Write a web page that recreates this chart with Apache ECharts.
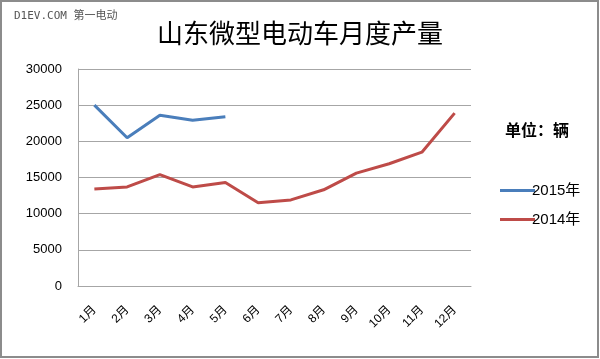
<!DOCTYPE html>
<html>
<head>
<meta charset="utf-8">
<script src="https://cdn.jsdelivr.net/npm/echarts@6/dist/echarts.min.js"></script>
<style>html,body{margin:0;padding:0;background:#fff;}#c{width:600px;height:359px;}</style>
</head>
<body>
<div id="c"></div>
<script>
const categories = ['1月','2月','3月','4月','5月','6月','7月','8月','9月','10月','11月','12月'];
const seriesNames = ['2015年','2014年'];
const values2015 = [25000, 20500, 23600, 22900, 23400];
const values2014 = [13400, 13700, 15400, 13700, 14300, 11500, 11900, 13300, 15600, 16900, 18500, 23900];
const yTicks = {min: 0, max: 30000, interval: 5000};

const chart = echarts.init(document.getElementById('c'));
const font = '"Liberation Sans", "Noto Sans CJK SC", sans-serif';
chart.setOption({
  animation: false,
  backgroundColor: '#fff',
  title: {
    text: '山东微型电动车月度产量',
    left: 'center', top: 15,
    textStyle: {fontFamily: '"Noto Sans CJK SC", sans-serif', fontSize: 26, fontWeight: 'normal', color: '#000'}
  },
  graphic: [
    {type: 'rect', shape: {x: 1, y: 1, width: 597, height: 356}, style: {fill: 'none', stroke: '#8c8c8c', lineWidth: 2}, silent: true},
    {type: 'text', left: 14, top: 11, style: {text: 'D1EV.COM 第一电动', fontFamily: '"DejaVu Sans Mono", "Noto Sans CJK SC", monospace', fontSize: 11, fill: '#555'}},
    {type: 'text', left: 505, top: 122, style: {text: '单位：辆', fontFamily: '"Noto Sans CJK SC", sans-serif', fontSize: 16, fontWeight: 'bold', fill: '#000'}}
  ],
  legend: {
    orient: 'vertical', left: 495, top: 178,
    itemWidth: 35, itemHeight: 14, itemGap: 14,
    icon: 'path://M0,0 M35,14 M0,5.5 L35,5.5 L35,8.5 L0,8.5 Z',
    data: seriesNames,
    textStyle: {fontFamily: font, fontSize: 15, color: '#000', padding: [0, 0, 0, -8]}
  },
  grid: {left: 78, right: 129, top: 69, bottom: 73},
  xAxis: {
    type: 'category', data: categories, boundaryGap: true,
    axisLine: {lineStyle: {color: '#a6a6a6', width: 1}},
    axisTick: {show: false},
    axisLabel: {rotate: 45, margin: 22, fontFamily: font, fontSize: 12, color: '#000'}
  },
  yAxis: {
    type: 'value', min: yTicks.min, max: yTicks.max, interval: yTicks.interval,
    axisLine: {show: true, lineStyle: {color: '#a6a6a6', width: 1}},
    axisTick: {show: false},
    splitLine: {lineStyle: {color: '#a6a6a6', width: 1}},
    axisLabel: {margin: 16, fontFamily: font, fontSize: 13, color: '#000', formatter: v => String(v)}
  },
  series: [
    {name: seriesNames[0], type: 'line', data: values2015, symbol: 'none', color: '#4a7ebb', lineStyle: {width: 3, color: '#4a7ebb'}},
    {name: seriesNames[1], type: 'line', data: values2014, symbol: 'none', color: '#be4b48', lineStyle: {width: 3, color: '#be4b48'}}
  ]
});
</script>
</body>
</html>
